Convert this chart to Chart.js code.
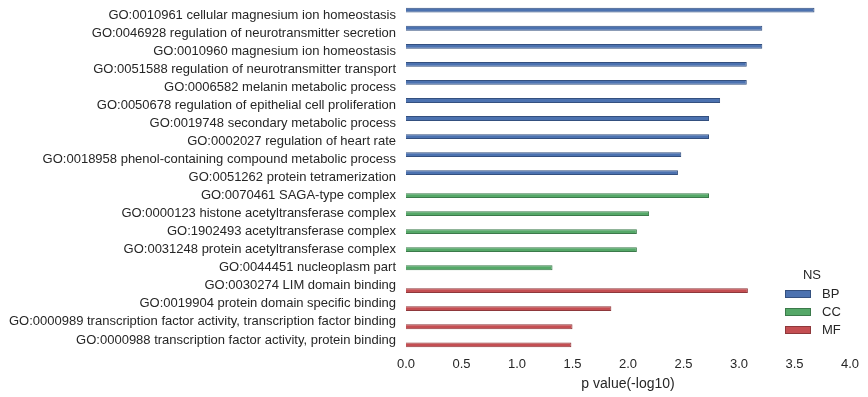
<!DOCTYPE html>
<html>
<head>
<meta charset="utf-8">
<script src="https://cdn.jsdelivr.net/npm/chart.js@4/dist/chart.umd.min.js"></script>
<style>
  html, body { margin: 0; padding: 0; background: #fff; }
  #wrap { width: 868px; height: 397px; }
</style>
</head>
<body>
<div id="wrap"><canvas id="goChart" width="868" height="397"></canvas></div>
<script>
const terms = [
  'GO:0010961 cellular magnesium ion homeostasis',
  'GO:0046928 regulation of neurotransmitter secretion',
  'GO:0010960 magnesium ion homeostasis',
  'GO:0051588 regulation of neurotransmitter transport',
  'GO:0006582 melanin metabolic process',
  'GO:0050678 regulation of epithelial cell proliferation',
  'GO:0019748 secondary metabolic process',
  'GO:0002027 regulation of heart rate',
  'GO:0018958 phenol-containing compound metabolic process',
  'GO:0051262 protein tetramerization',
  'GO:0070461 SAGA-type complex',
  'GO:0000123 histone acetyltransferase complex',
  'GO:1902493 acetyltransferase complex',
  'GO:0031248 protein acetyltransferase complex',
  'GO:0044451 nucleoplasm part',
  'GO:0030274 LIM domain binding',
  'GO:0019904 protein domain specific binding',
  'GO:0000989 transcription factor activity, transcription factor binding',
  'GO:0000988 transcription factor activity, protein binding'
];
const pvalues = [3.68, 3.21, 3.21, 3.07, 3.07, 2.83, 2.73, 2.73, 2.48, 2.45,
                 2.73, 2.19, 2.08, 2.08, 1.32, 3.08, 1.85, 1.50, 1.49];
const namespace = ['BP','BP','BP','BP','BP','BP','BP','BP','BP','BP',
                   'CC','CC','CC','CC','CC','MF','MF','MF','MF'];
const groups = ['BP', 'CC', 'MF'];
const colors = { BP: '#4c72b0', CC: '#55a868', MF: '#c44e52' };
const edges = { BP: '#34507f', CC: '#3c7a4b', MF: '#8e383b' };
const xTicks = [0, 0.5, 1, 1.5, 2, 2.5, 3, 3.5, 4];

const font = "'Liberation Sans', Arial, sans-serif";
const textColor = '#262626';

const datasets = groups.map(g => ({
  label: g,
  data: pvalues.map((v, i) => namespace[i] === g ? v : null),
  backgroundColor: colors[g],
  borderColor: edges[g],
  borderWidth: 1,
  categoryPercentage: 0.8,
  barPercentage: 1.0
}));

// legend drawn inside the axes, lower right, like the seaborn one
const nsLegend = {
  id: 'nsLegend',
  afterDraw(chart) {
    const ctx = chart.ctx;
    ctx.save();
    ctx.font = '13px ' + font;
    ctx.fillStyle = textColor;
    ctx.textBaseline = 'middle';
    ctx.textAlign = 'center';
    ctx.fillText('NS', 812, 275);
    ctx.textAlign = 'left';
    groups.forEach((g, i) => {
      const y = 294 + i * 18;
      ctx.fillStyle = colors[g];
      ctx.fillRect(785, y - 4, 26, 8);
      ctx.strokeStyle = edges[g];
      ctx.lineWidth = 1;
      ctx.strokeRect(785.5, y - 3.5, 25, 7);
      ctx.fillStyle = textColor;
      ctx.fillText(g, 822, y);
    });
    ctx.restore();
  }
};

const ctx = document.getElementById('goChart').getContext('2d');
const chart = new Chart(ctx, {
  type: 'bar',
  data: { labels: terms, datasets: datasets },
  plugins: [nsLegend],
  options: {
    indexAxis: 'y',
    responsive: false,
    animation: false,
    skipNull: false,
    layout: { padding: { top: 6, right: 18, bottom: 0, left: 0 } },
    plugins: {
      legend: { display: false },
      tooltip: { enabled: false }
    },
    scales: {
      x: {
        min: 0,
        max: 4,
        afterBuildTicks: s => { s.ticks = xTicks.map(v => ({ value: v })); },
        afterFit: s => { s.height = 48; },
        grid: { display: false, drawTicks: false, tickLength: 0 },
        border: { display: false },
        ticks: {
          padding: 8,
          color: textColor,
          font: { family: font, size: 13 },
          callback: v => Number(v).toFixed(1)
        },
        title: {
          display: true,
          text: 'p value(-log10)',
          color: textColor,
          font: { family: font, size: 14 },
          padding: { top: 5, bottom: 4 }
        }
      },
      y: {
        afterFit: s => { s.width = 406; s.paddingTop = 0; s.paddingBottom = 0; },
        grid: { display: false, drawTicks: false, tickLength: 0 },
        border: { display: false },
        ticks: {
          padding: 10,
          color: textColor,
          font: { family: font, size: 13 },
          autoSkip: false
        }
      }
    }
  }
});
</script>
</body>
</html>
